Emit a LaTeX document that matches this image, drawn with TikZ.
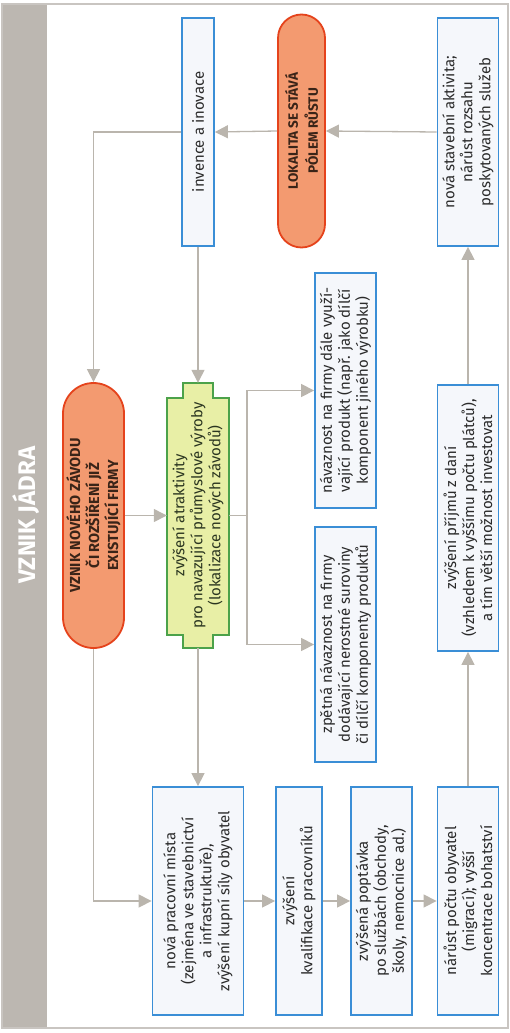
\documentclass[tikz,border=0pt]{standalone}
\usepackage{fontspec}
\setmainfont{Fira Sans}
\usetikzlibrary{arrows.meta,shapes.misc}
\definecolor{linegray}{HTML}{BAB5AD}
\definecolor{bandgray}{HTML}{BCB7B1}
\definecolor{boxblue}{HTML}{3A8ED6}
\definecolor{boxfill}{HTML}{F5F7FB}
\definecolor{orfill}{HTML}{F39A70}
\definecolor{ordraw}{HTML}{E5431C}
\definecolor{grfill}{HTML}{E8EFA6}
\definecolor{grdraw}{HTML}{4CA24A}
\definecolor{txt}{HTML}{2A2A2A}
\definecolor{ortxt}{HTML}{3A2418}
\definecolor{grtxt}{HTML}{2A3520}
\tikzset{
  bluebox/.style={draw=boxblue, line width=1.8pt, fill=boxfill, rotate=90,
    align=center, inner sep=0pt, text=txt, font=\fontsize{15}{18}\selectfont},
  pole/.style={rounded rectangle, draw=ordraw, fill=orfill, line width=1.8pt,
    rotate=90, align=center, inner sep=0pt, text=ortxt,
    font=\fontsize{14.5}{19}\selectfont\bfseries},
  greenbox/.style={rotate=90, align=center, inner sep=0pt, text=grtxt,
    font=\fontsize{15}{18}\selectfont},
  ln/.style={draw=linegray, line width=1.3pt},
  arr/.style={ln, -{Triangle[length=13pt,width=13pt]}},
}
\begin{document}
\begin{tikzpicture}[x=1pt,y=-1pt]
\useasboundingbox (0,0) rectangle (510,1033);
% frame and band
\fill[bandgray] (2,4) rectangle (47,1028);
\draw[bandgray!80, line width=1.2pt] (2,4) rectangle (508,1028);
\node[rotate=90, text=white, font=\fontsize{24}{28}\selectfont\bfseries] (title) at (26,515) {VZNIK JÁDRA};

% top row
\node[bluebox, minimum width=228, minimum height=32] (n1) at (198,132) {invence a inovace};
\node[pole, minimum width=233, minimum height=47, font=\fontsize{13.5}{20}\selectfont\bfseries] (n2) at (301.5,131) {LOKALITA SE STÁVÁ\\PÓLEM RŮSTU};
\node[bluebox, minimum width=228, minimum height=61] (n3) at (468,132) {nová stavební aktivita;\\nárůst rozsahu\\poskytovaných služeb};

% middle
\node[pole, minimum width=265, minimum height=61] (n4) at (93.5,515.5) {VZNIK NOVÉHO ZÁVODU\\ČI ROZŠÍŘENÍ JIŽ\\EXISTUJÍCÍ FIRMY};
\filldraw[fill=grfill, draw=grdraw, line width=1.8pt]
  (183,383) -- (213,383) -- (213,398) -- (229,398) -- (229,635) -- (213,635) -- (213,648)
  -- (183,648) -- (183,635) -- (167,635) -- (167,398) -- (183,398) -- cycle;
\node[greenbox, minimum width=265, minimum height=62] (n5) at (198,515.5) {zvýšení atraktivity\\pro navazující průmyslové výroby\\(lokalizace nových závodů)};
\node[bluebox, minimum width=235, minimum height=61] (n6) at (345.5,390.5) {návaznost na firmy dále využí-\\vající produkt (např. jako dílčí\\komponent jiného výrobku)};
\node[bluebox, minimum width=235, minimum height=61] (n7) at (345.5,644.5) {zpětná návaznost na firmy\\dodávající nerostné suroviny\\či dílčí komponenty produktů};
\node[bluebox, minimum width=266, minimum height=61] (n8) at (468,518) {zvýšení příjmů z daní\\(vzhledem k vyššímu počtu plátců),\\a tím větší možnost investovat};

% bottom row
\node[bluebox, minimum width=228, minimum height=91] (n9) at (198,901) {nová pracovní místa\\(zejména ve stavebnictví\\a infrastruktuře),\\zvýšení kupní síly obyvatel};
\node[bluebox, minimum width=228, minimum height=46] (n10) at (299,901) {zvýšení\\kvalifikace pracovníků};
\node[bluebox, minimum width=228, minimum height=61] (n11) at (381.5,901) {zvýšená poptávka\\po službách (obchody,\\školy, nemocnice ad.)};
\node[bluebox, minimum width=228, minimum height=61] (n12) at (468,901) {nárůst počtu obyvatel\\(migrací); vyšší\\koncentrace bohatství};

% connectors
\draw[arr] (n3.north) -- (n2.south);
\draw[arr] (n2.north) -- (n1.south);
\draw[arr] (n1.north) -| (n4.east);
\draw[arr] (n1.west) -- (n5.east);
\draw[arr] (n4.south) -- (n5.north);
\coordinate (j) at (247,515.5);
\draw[ln] (n5.south) -- (j);
\draw[arr] (j) |- (n6.north);
\draw[arr] (j) |- (n7.north);
\draw[arr] (n4.west) |- (n9.north);
\draw[arr] (n5.west) -- (n9.east);
\draw[arr] (n9.south) -- (n10.north);
\draw[arr] (n10.south) -- (n11.north);
\draw[arr] (n11.south) -- (n12.north);
\draw[arr] (n12.east) -- (n8.west);
\draw[arr] (n8.east) -- (n3.west);
\end{tikzpicture}
\end{document}
